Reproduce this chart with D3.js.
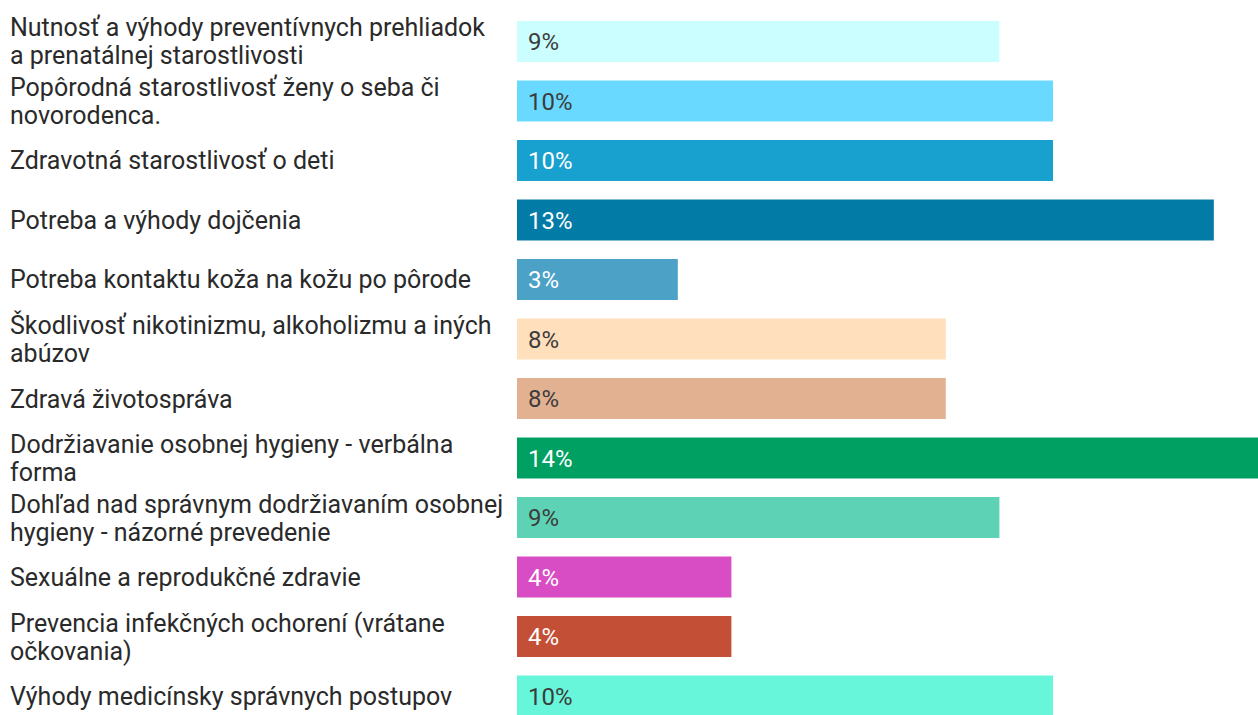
<!DOCTYPE html>
<html>
<head>
<meta charset="utf-8">
<script src="https://cdn.jsdelivr.net/npm/d3@7"></script>
<style>
  body { margin: 0; background: #fff; }
  svg { display: block; font-family: Roboto, "Noto Sans", sans-serif; }
</style>
</head>
<body>
<div id="chart"></div>
<script>
// categories (line breaks as in the original)
var categories = [
    "Nutnosť a výhody preventívnych prehliadok\na prenatálnej starostlivosti",
    "Popôrodná starostlivosť ženy o seba či\nnovorodenca.",
    "Zdravotná starostlivosť o deti",
    "Potreba a výhody dojčenia",
    "Potreba kontaktu koža na kožu po pôrode",
    "Škodlivosť nikotinizmu, alkoholizmu a iných\nabúzov",
    "Zdravá životospráva",
    "Dodržiavanie osobnej hygieny - verbálna\nforma",
    "Dohľad nad správnym dodržiavaním osobnej\nhygieny - názorné prevedenie",
    "Sexuálne a reprodukčné zdravie",
    "Prevencia infekčných ochorení (vrátane\nočkovania)",
    "Výhody medicínsky správnych postupov"
];
var values = [9, 10, 10, 13, 3, 8, 8, 14, 9, 4, 4, 10];
var colors = ["#cbfeff", "#6ad9ff", "#18a0ce", "#027ba6", "#4ba1c6", "#ffdfbc",
              "#e2b192", "#00a062", "#5ed2b4", "#d84cc4", "#c34f36", "#68f6da"];
var darkText = [true, true, false, false, false, true, true, false, true, false, false, true];

var width = 1258, height = 715;
var svg = d3.select("#chart").append("svg")
    .attr("width", width)
    .attr("height", height);

var x = d3.scaleLinear().domain([0, 1]).range([517, 517 + 53.6]);
var y = d3.scaleBand()
    .domain(d3.range(categories.length))
    .range([21, 716.5])
    .paddingInner(0.311)
    .paddingOuter(0);

var rows = svg.selectAll("g.row")
    .data(values)
    .enter().append("g")
    .attr("class", "row");

rows.append("rect")
    .attr("x", x(0))
    .attr("y", function(d, i) { return y(i); })
    .attr("width", function(d) { return x(d) - x(0); })
    .attr("height", y.bandwidth())
    .style("fill", function(d, i) { return colors[i]; });

rows.append("text")
    .attr("x", x(0) + 11)
    .attr("y", function(d, i) { return y(i) + y.bandwidth() / 2; })
    .attr("dy", "0.36em")
    .attr("font-size", "24px")
    .style("fill", function(d, i) { return darkText[i] ? "#3c3c3c" : "#ffffff"; })
    .text(function(d) { return d + "%"; });

// category labels, block centred on the bar
var labels = svg.selectAll("text.cat")
    .data(categories)
    .enter().append("text")
    .attr("class", "cat")
    .attr("font-size", "25px")
    .style("fill", "#2a2a2a");

var lineH = 28;
labels.each(function(d, i) {
    var lines = d.split("\n");
    var cy = y(i) + y.bandwidth() / 2 - (lines.length - 1) * lineH / 2;
    d3.select(this).selectAll("tspan")
        .data(lines)
        .enter().append("tspan")
        .attr("x", 10)
        .attr("y", function(l, k) { return cy + k * lineH; })
        .attr("dy", "0.36em")
        .text(function(l) { return l; });
});
</script>
</body>
</html>
